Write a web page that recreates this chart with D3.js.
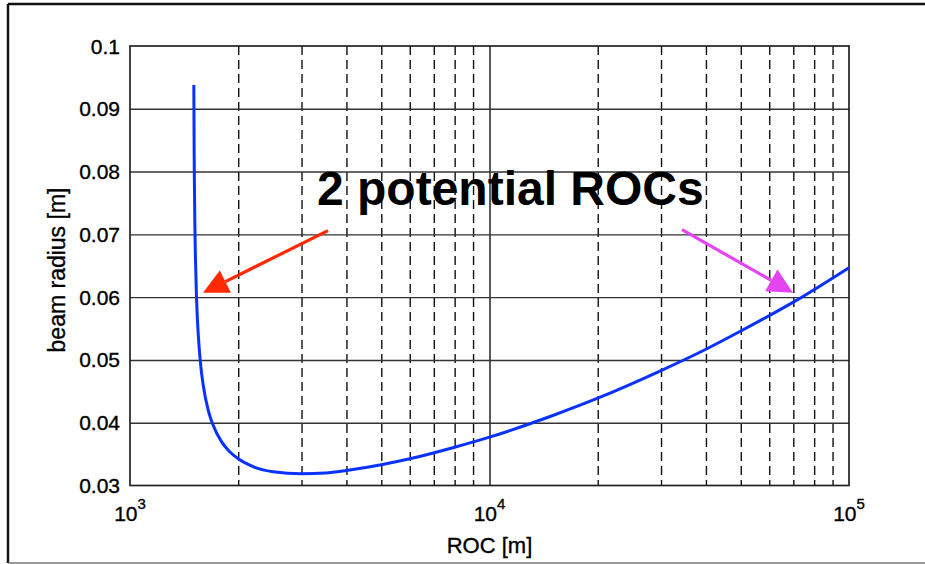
<!DOCTYPE html>
<html>
<head>
<meta charset="utf-8">
<title>beam radius vs ROC</title>
<script src="https://d3js.org/d3.v7.min.js"></script>
<style>
  body { margin: 0; background: #fff; font-family: "Liberation Sans", Arial, Helvetica, sans-serif; }
  .grid .domain { display: none; }
  .ticklbl { font-size: 21px; fill: #000; stroke: #000; stroke-width: 0.35; }
</style>
</head>
<body>
<div id="chart"></div>
<script>
// values
var roc = [1505, 1508, 1510, 1515, 1520, 1530, 1540, 1550, 1575, 1600, 1650, 1700, 1800, 1900, 2000,
           2200, 2500, 3000, 3500, 4000, 5000, 6000, 8000, 10000, 15000, 20000, 30000, 40000,
           50000, 70000, 100000];
var radius = [0.0938, 0.0836, 0.0791, 0.0716, 0.0668, 0.0605, 0.0565, 0.0536, 0.0488, 0.0458, 0.0420,
              0.0397, 0.0369, 0.0353, 0.03425, 0.0330, 0.0322, 0.03188, 0.0320, 0.03239, 0.0333,
              0.03425, 0.0361, 0.0377, 0.04115, 0.0439, 0.0483, 0.0517, 0.0546, 0.0592, 0.0647];
var yTicks = [0.03, 0.04, 0.05, 0.06, 0.07, 0.08, 0.09, 0.1];
var yTickLabels = ["0.03", "0.04", "0.05", "0.06", "0.07", "0.08", "0.09", "0.1"];
var xDecades = [1e3, 1e4, 1e5];
var xDecadeExp = ["3", "4", "5"];
var xMinor = [2e3, 3e3, 4e3, 5e3, 6e3, 7e3, 8e3, 9e3, 2e4, 3e4, 4e4, 5e4, 6e4, 7e4, 8e4, 9e4];
// arrows: [tail roc, tail radius, tip roc, tip radius]
var redArrow = [3555, 0.0706, 1596, 0.0607];
var pinkArrow = [34310, 0.07075, 69860, 0.0607];
var note = "2 potential ROCs";

var W = 925, H = 564;
var margin = {left: 130, right: 76, top: 46, bottom: 78.5};
var x = d3.scaleLog().domain([1e3, 1e5]).range([margin.left, W - margin.right]);
var y = d3.scaleLinear().domain([0.03, 0.1]).range([H - margin.bottom, margin.top]);
var ph = y(0.03) - y(0.1);

var svg = d3.select("#chart").append("svg").attr("width", W).attr("height", H);

// outer frame (right side runs off the page)
svg.append("line").attr("x1", 8).attr("x2", W).attr("y1", 4).attr("y2", 4)
  .attr("stroke", "#111").attr("stroke-width", 2.5);
svg.append("line").attr("x1", 8).attr("x2", 8).attr("y1", 4).attr("y2", 563)
  .attr("stroke", "#111").attr("stroke-width", 2.5);
svg.append("line").attr("x1", 8).attr("x2", W).attr("y1", 563).attr("y2", 563)
  .attr("stroke", "#777").attr("stroke-width", 1.5);

// grid
svg.append("g").attr("class", "grid")
  .attr("transform", "translate(0," + y(0.1) + ")")
  .call(d3.axisTop(x).tickValues(xMinor).tickSize(-ph).tickFormat(""))
  .selectAll("line").style("stroke", "#111").style("stroke-width", 1.4).style("stroke-dasharray", "9,5");
svg.append("g").attr("class", "grid")
  .attr("transform", "translate(0," + y(0.03) + ")")
  .call(d3.axisBottom(x).tickValues([1e4]).tickSize(-ph).tickFormat(""))
  .selectAll("line").style("stroke", "#222").style("stroke-width", 1.5);
svg.append("g").attr("class", "grid")
  .attr("transform", "translate(" + x(1e3) + ",0)")
  .call(d3.axisLeft(y).tickValues(yTicks.slice(1, -1)).tickSize(-(x(1e5) - x(1e3))).tickFormat(""))
  .selectAll("line").style("stroke", "#333").style("stroke-width", 1.4);

// plot box
svg.append("rect").attr("x", x(1e3)).attr("y", y(0.1))
  .attr("width", x(1e5) - x(1e3)).attr("height", ph)
  .attr("fill", "none").attr("stroke", "#222").attr("stroke-width", 1.7);

// y tick labels
svg.append("g").selectAll("text").data(yTicks).enter().append("text")
  .attr("class", "ticklbl")
  .attr("x", x(1e3) - 10).attr("y", function(d) { return y(d); })
  .attr("dy", "0.36em").attr("text-anchor", "end")
  .text(function(d, i) { return yTickLabels[i]; });

// x tick labels 10^n
var xl = svg.append("g").selectAll("text").data(xDecades).enter().append("text")
  .attr("class", "ticklbl")
  .attr("x", function(d) { return x(d); }).attr("y", y(0.03) + 35)
  .attr("text-anchor", "middle");
xl.append("tspan").text("10");
xl.append("tspan").attr("dy", -12).style("font-size", "15px")
  .text(function(d, i) { return xDecadeExp[i]; });

// axis titles
svg.append("text").attr("class", "ticklbl").attr("x", (x(1e3) + x(1e5)) / 2).attr("y", 553)
  .attr("text-anchor", "middle").style("font-size", "22px").text("ROC [m]");
svg.append("text").attr("class", "ticklbl")
  .attr("transform", "translate(65," + 270 + ") rotate(-90)")
  .attr("text-anchor", "middle").style("font-size", "23px").text("beam radius [m]");

// curve
var pts = roc.map(function(r, i) { return [r, radius[i]]; });
var line = d3.line().curve(d3.curveMonotoneX)
  .x(function(d) { return x(d[0]); }).y(function(d) { return y(d[1]); });
svg.append("path").datum(pts).attr("d", line)
  .attr("fill", "none").attr("stroke", "#0a32ff").attr("stroke-width", 3);

// annotation
svg.append("text").attr("x", 317).attr("y", 205)
  .style("font-size", "48px").style("font-weight", "bold").text(note);

function arrow(a, color) {
  var x1 = x(a[0]), y1 = y(a[1]), x2 = x(a[2]), y2 = y(a[3]);
  var dx = x2 - x1, dy = y2 - y1, len = Math.sqrt(dx * dx + dy * dy);
  var ux = dx / len, uy = dy / len, hl = 25, hw = 12.5;
  var bx = x2 - ux * hl, by = y2 - uy * hl;
  svg.append("line").attr("x1", x1).attr("y1", y1).attr("x2", bx).attr("y2", by)
    .attr("stroke", color).attr("stroke-width", 3.2);
  svg.append("path")
    .attr("d", "M" + x2 + "," + y2 + "L" + (bx - uy * hw) + "," + (by + ux * hw) +
               "L" + (bx + uy * hw) + "," + (by - ux * hw) + "Z")
    .attr("fill", color);
}
arrow(redArrow, "#ff2a00");
arrow(pinkArrow, "#e445f0");
</script>
</body>
</html>
